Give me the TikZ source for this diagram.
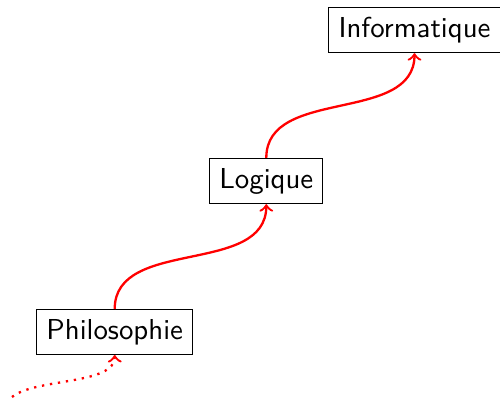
\documentclass[tikz,border=0pt]{standalone}
\begin{document}
\begin{tikzpicture}[x=0.3467pt,y=0.3467pt,
  field/.style={draw, font=\sffamily, inner sep=0.3333em},
  link/.style={red, thick, -to, out=90, in=-90}]
\useasboundingbox (0,0) rectangle (500,400);
% the three fields, bottom left to top right
\node[field] (phi) at (114.7,68) {Philosophie};
\node[field] (log) at (266.3,219) {Logique};
\node[field] (inf) at (414.5,370) {Informatique};
% lineage links
\draw[link] (phi.north) to (log.south);
\draw[link] (log.north) to (inf.south);
% earlier, unnamed origin
\coordinate (origin) at (12,3);
\draw[red, thick, dotted, -to] (origin) .. controls (35,22) and (115,15) .. (phi.south);
\end{tikzpicture}
\end{document}
